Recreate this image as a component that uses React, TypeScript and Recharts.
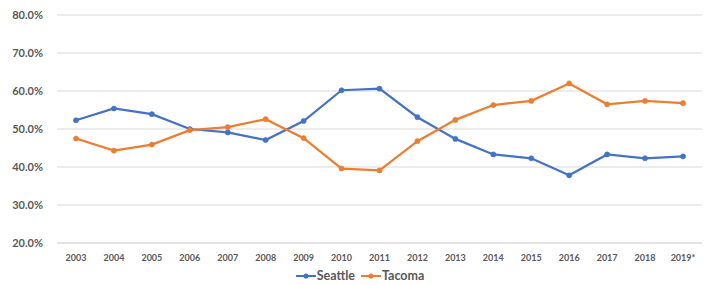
import { CartesianGrid, Legend, Line, LineChart, XAxis, YAxis } from 'recharts';

const years = ['2003', '2004', '2005', '2006', '2007', '2008', '2009', '2010', '2011', '2012', '2013', '2014', '2015', '2016', '2017', '2018', '2019*'];
const seattle = [52.3, 55.4, 53.9, 50.0, 49.1, 47.1, 52.1, 60.2, 60.6, 53.1, 47.4, 43.3, 42.3, 37.8, 43.3, 42.3, 42.8];
const tacoma = [47.5, 44.3, 45.9, 49.7, 50.5, 52.6, 47.6, 39.6, 39.1, 46.8, 52.4, 56.3, 57.4, 62.0, 56.5, 57.4, 56.8];
const yTicks = [20, 30, 40, 50, 60, 70, 80];

const data = years.map((year, i) => ({ year, Seattle: seattle[i], Tacoma: tacoma[i] }));

const BLUE = '#4472C4';
const ORANGE = '#ED7D31';
const GREY = '#595959';
const FONT = 'Lato, "Open Sans", sans-serif';

const LegendContent = () => (
  <div style={{ display: 'flex', justifyContent: 'center', gap: 6, paddingLeft: 18, height: 17, alignItems: 'center', fontFamily: FONT, fontWeight: 700, fontSize: 12.5, color: GREY, lineHeight: '15px' }}>
    {[
      { name: 'Seattle', color: BLUE },
      { name: 'Tacoma', color: ORANGE },
    ].map(s => (
      <span key={s.name} style={{ display: 'flex', alignItems: 'center' }}>
        <svg width={20} height={8}>
          <line x1={0} y1={4} x2={20} y2={4} stroke={s.color} strokeWidth={2} />
          <circle cx={10} cy={4} r={2.6} fill={s.color} />
        </svg>
        <span style={{ marginLeft: 1 }}>{s.name}</span>
      </span>
    ))}
  </div>
);

export default function App() {
  return (
    <div style={{ position: 'absolute', left: 0, top: 0, width: 707, height: 284, background: '#fff' }}>
      <LineChart width={707} height={284} data={data} margin={{ top: 15, right: 5, bottom: 0, left: 0 }}>
        <CartesianGrid vertical={false} stroke="#d9d9d9" />
        <XAxis
          dataKey="year"
          stroke="#d9d9d9"
          tickLine={false}
          height={24}
          padding={{ left: 19, right: 19 }}
          tick={{ fill: GREY, fontSize: 9, fontWeight: 700, fontFamily: FONT }}
          tickMargin={6}
          interval={0}
        />
        <YAxis
          domain={[20, 80]}
          ticks={yTicks}
          width={57}
          axisLine={false}
          tickLine={false}
          tickFormatter={(v: number) => `${v.toFixed(1)}%`}
          tick={{ fill: GREY, fontSize: 11, fontWeight: 700, fontFamily: FONT }}
          tickMargin={8}
        />
        <Legend verticalAlign="bottom" height={17} content={<LegendContent />} />
        <Line dataKey="Seattle" stroke={BLUE} strokeWidth={2.25} dot={{ r: 2.6, fill: BLUE, stroke: BLUE, strokeWidth: 0.5 }} activeDot={false} isAnimationActive={false} />
        <Line dataKey="Tacoma" stroke={ORANGE} strokeWidth={2.25} dot={{ r: 2.6, fill: ORANGE, stroke: ORANGE, strokeWidth: 0.5 }} activeDot={false} isAnimationActive={false} />
      </LineChart>
    </div>
  );
}
